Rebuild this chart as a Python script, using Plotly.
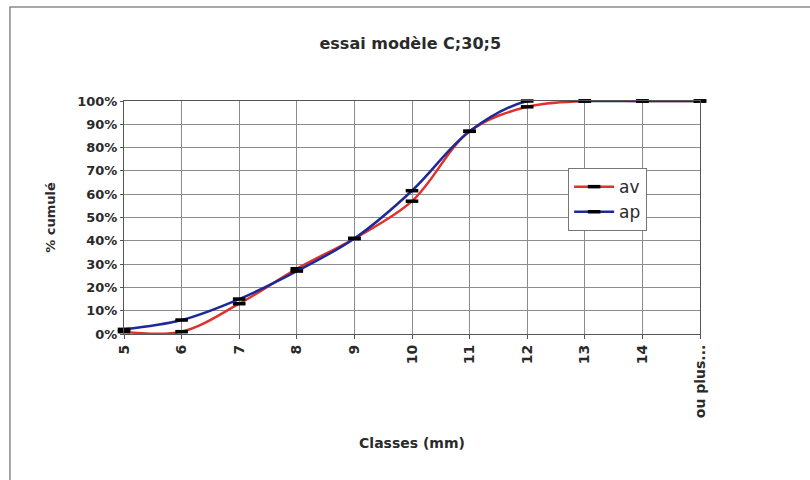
import plotly.graph_objects as go

# Size classes (mm) and cumulative passing fractions
classes = ["5", "6", "7", "8", "9", "10", "11", "12", "13", "14", "ou plus..."]
av = [0.01, 0.01, 0.13, 0.28, 0.41, 0.57, 0.87, 0.975, 1.0, 1.0, 1.0]
ap = [0.02, 0.06, 0.15, 0.27, 0.41, 0.615, 0.87, 1.0, 1.0, 1.0, 1.0]
y_ticks = [i / 10 for i in range(11)]
y_labels = [f"{i * 10}%" for i in range(11)]

FONT = "DejaVu Sans"
TXT = "#2a2a2a"
RED = "#e2302c"
BLUE = "#1c2a98"

fig = go.Figure()
for name, vals, color in [("av", av, RED), ("ap", ap, BLUE)]:
    fig.add_trace(go.Scatter(
        x=list(range(len(classes))), y=vals, name=name,
        mode="lines+markers",
        line=dict(color=color, width=2.5, shape="spline", smoothing=1.0),
        marker=dict(symbol="line-ew", size=9, color="black",
                    line=dict(color="black", width=3.5)),
        cliponaxis=False,
    ))

# Outer chart frame
fig.add_shape(type="rect", xref="paper", yref="paper",
              x0=-0.198, x1=1.22, y0=-0.7, y1=1.403,
              line=dict(color="#8a8a8a", width=1.5), fillcolor="rgba(0,0,0,0)",
              layer="below")

fig.update_layout(
    width=810, height=480,
    margin=dict(l=124, r=110, t=101, b=146),
    paper_bgcolor="white", plot_bgcolor="white",
    font=dict(family=FONT, color=TXT),
    title=dict(text="essai modèle C;30;5", x=0.497, xref="paper",
               xanchor="center", y=0.91, yanchor="middle",
               font=dict(size=16, family=FONT, color=TXT, weight="bold")),
    showlegend=True,
    legend=dict(x=0.771, y=0.712, xanchor="left", yanchor="top",
                bgcolor="white", bordercolor="#777777", borderwidth=1,
                font=dict(size=17, family=FONT, color=TXT),
                itemwidth=40, tracegroupgap=10),
    xaxis=dict(
        range=[0, 10], tickmode="array",
        tickvals=list(range(len(classes))), ticktext=classes,
        tickangle=-90, ticks="outside", ticklen=4, tickcolor="#555",
        showgrid=True, gridcolor="#8c8c8c", gridwidth=1,
        showline=True, linecolor="#555", linewidth=1.2, mirror=True,
        zeroline=False,
        tickfont=dict(size=14, family=FONT, color=TXT, weight="bold"),
        title=dict(text="Classes (mm)", standoff=20,
                   font=dict(size=14, family=FONT, color=TXT, weight="bold")),
    ),
    yaxis=dict(
        range=[0, 1], tickmode="array", tickvals=y_ticks, ticktext=y_labels,
        ticks="outside", ticklen=3, tickcolor="#555",
        showgrid=True, gridcolor="#8c8c8c", gridwidth=1,
        showline=True, linecolor="#555", linewidth=1.2, mirror=True,
        zeroline=False,
        tickfont=dict(size=13, family=FONT, color=TXT, weight="bold"),
        title=dict(text="% cumulé", standoff=18,
                   font=dict(size=13, family=FONT, color=TXT, weight="bold")),
    ),
)

fig.write_html("out.html")
